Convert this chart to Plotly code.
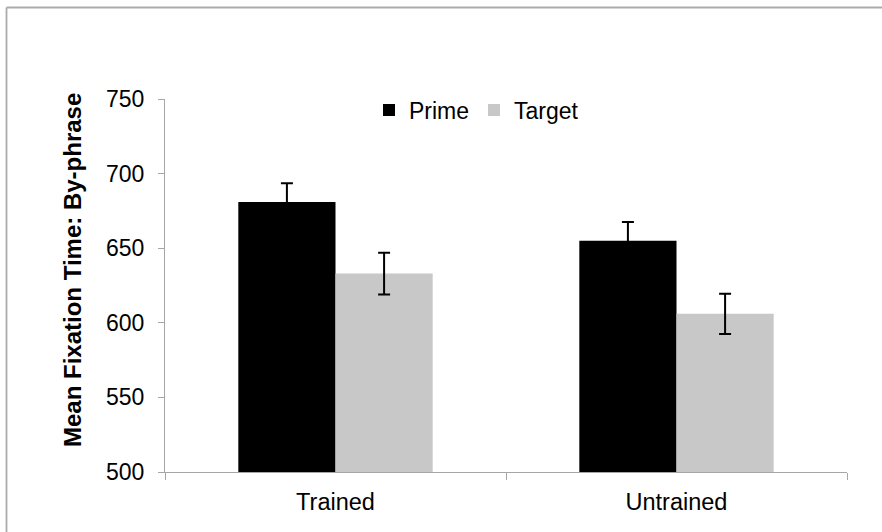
import plotly.graph_objects as go

# Mean fixation times (ms) by condition, with error bars
conditions = ["Trained", "Untrained"]
prime_means = [681, 655]
prime_err = [12.5, 12.5]
target_means = [633, 606]
target_err = [14, 13.5]
y_ticks = [500, 550, 600, 650, 700, 750]

FONT = "Liberation Sans, Arial, sans-serif"
AXIS_GREY = "#a6a6a6"

W, H = 882, 532
ML, MR, MT, MB = 165, 35, 99, 60
PW = W - ML - MR
PH = H - MT - MB


def px_x(x):
    return (x - ML) / PW


def px_y(y):
    return 1 - (y - MT) / PH


fig = go.Figure()
fig.add_trace(go.Bar(
    name="Prime", x=conditions, y=prime_means,
    marker=dict(color="#000000", line=dict(width=0)),
    error_y=dict(type="data", array=prime_err, color="#000000",
                 thickness=2, width=6),
))
fig.add_trace(go.Bar(
    name="Target", x=conditions, y=target_means,
    marker=dict(color="#c8c8c8", line=dict(width=0)),
    error_y=dict(type="data", array=target_err, color="#000000",
                 thickness=2, width=6),
))

fig.update_layout(
    width=W, height=H,
    margin=dict(l=ML, r=MR, t=MT, b=MB, pad=0),
    paper_bgcolor="white", plot_bgcolor="white",
    barmode="group", bargap=0.43, bargroupgap=0,
    font=dict(family=FONT, size=23, color="#000000"),
    showlegend=True,
    legend=dict(
        orientation="h", x=px_x(369), y=px_y(110),
        xanchor="left", yanchor="middle",
        font=dict(size=23), bgcolor="rgba(0,0,0,0)",
        entrywidth=60, itemsizing="constant",
    ),
    xaxis=dict(
        showline=True, linecolor=AXIS_GREY, linewidth=1.3,
        ticks="outside", tickson="boundaries", ticklen=7,
        tickcolor=AXIS_GREY, tickwidth=1.3,
        showgrid=False, zeroline=False,
        tickfont=dict(size=23.5), ticklabelstandoff=9,
    ),
    yaxis=dict(
        range=[500, 750], tickvals=y_ticks,
        showline=True, linecolor=AXIS_GREY, linewidth=1.3,
        ticks="outside", ticklen=6, tickcolor=AXIS_GREY, tickwidth=1.3,
        showgrid=False, zeroline=False,
        tickfont=dict(size=23), ticklabelstandoff=9,
    ),
    annotations=[dict(
        text="<b>Mean Fixation Time: By-phrase</b>",
        xref="paper", yref="paper", x=px_x(72), y=px_y(270),
        xanchor="center", yanchor="middle", textangle=-90,
        showarrow=False, font=dict(size=24, family=FONT),
    )],
    shapes=[
        # chart-area frame (left and top edges)
        dict(type="line", xref="paper", yref="paper",
             x0=px_x(6.5), x1=px_x(6.5), y0=px_y(7.5), y1=px_y(540),
             line=dict(color="#ababab", width=1.8)),
        dict(type="line", xref="paper", yref="paper",
             x0=px_x(6.5), x1=px_x(890), y0=px_y(7.5), y1=px_y(7.5),
             line=dict(color="#ababab", width=1.8)),
    ],
)

fig.write_html("out.html")
